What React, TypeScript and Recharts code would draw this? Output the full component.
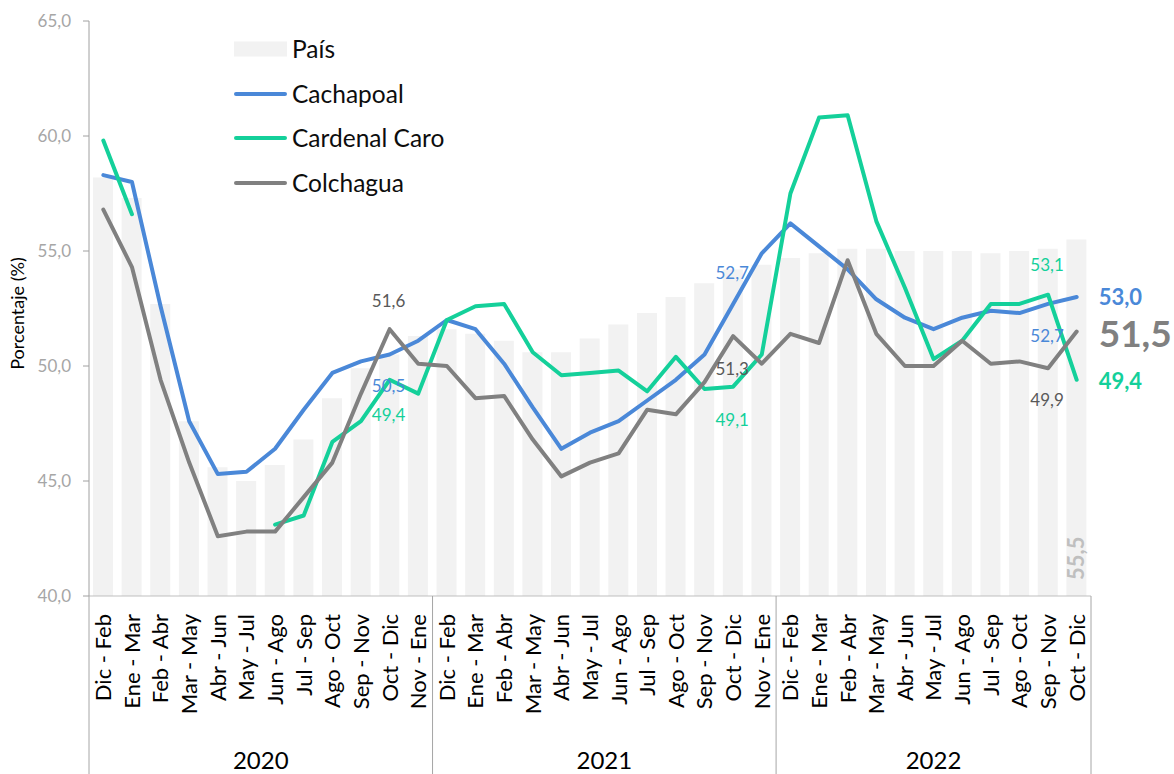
import React from 'react'
import { ComposedChart, Bar, Line, XAxis, YAxis, Legend, LabelList } from 'recharts'

// period labels, one row per year
const periods = ['Dic - Feb', 'Ene - Mar', 'Feb - Abr', 'Mar - May', 'Abr - Jun', 'May - Jul', 'Jun - Ago', 'Jul - Sep', 'Ago - Oct', 'Sep - Nov', 'Oct - Dic', 'Nov - Ene']
const years = ['2020', '2021', '2022']
const yearLengths = [12, 12, 11]
const categories = [...periods, ...periods, ...periods.slice(0, 11)]

const yTicks = [40, 45, 50, 55, 60, 65]
const legendOrder = ['País', 'Cachapoal', 'Cardenal Caro', 'Colchagua']

const pais = [58.2, 57.3, 52.7, 47.6, 45.6, 45.0, 45.7, 46.8, 48.6, 49.9, 50.5, 51.3,
  51.6, 51.4, 51.1, 50.6, 50.6, 51.2, 51.8, 52.3, 53.0, 53.6, 54.2, 54.4,
  54.7, 54.9, 55.1, 55.1, 55.0, 55.0, 55.0, 54.9, 55.0, 55.1, 55.5]
const cachapoal = [58.3, 58.0, 52.6, 47.6, 45.3, 45.4, 46.4, 48.1, 49.7, 50.2, 50.5, 51.1,
  52.0, 51.6, 50.1, 48.2, 46.4, 47.1, 47.6, 48.5, 49.4, 50.5, 52.7, 54.9,
  56.2, 55.2, 54.2, 52.9, 52.1, 51.6, 52.1, 52.4, 52.3, 52.7, 53.0]
const cardenalCaro = [59.8, 56.6, null, null, null, null, 43.1, 43.5, 46.7, 47.6, 49.4, 48.8,
  52.0, 52.6, 52.7, 50.6, 49.6, 49.7, 49.8, 48.9, 50.4, 49.0, 49.1, 50.5,
  57.5, 60.8, 60.9, 56.3, 53.4, 50.3, 51.1, 52.7, 52.7, 53.1, 49.4]
const colchagua = [56.8, 54.3, 49.4, 45.8, 42.6, 42.8, 42.8, 44.3, 45.8, 48.8, 51.6, 50.1,
  50.0, 48.6, 48.7, 46.8, 45.2, 45.8, 46.2, 48.1, 47.9, 49.3, 51.3, 50.1,
  51.4, 51.0, 54.6, 51.4, 50.0, 50.0, 51.1, 50.1, 50.2, 49.9, 51.5]

// indices that carry a value label
const labelIdx = [10, 22, 33]

const data = categories.map((label, i) => ({
  idx: i,
  label,
  pais: pais[i],
  cachapoal: cachapoal[i],
  caro: cardenalCaro[i],
  colchagua: colchagua[i],
}))

const FONT = 'Lato, "Open Sans", sans-serif'
const BLUE = '#4a88d8'
const GREEN = '#14d09a'
const GRAY = '#808080'

const W = 1174
const H = 774
const PLOT_LEFT = 89
const PLOT_RIGHT = 1091
const BAND = (PLOT_RIGHT - PLOT_LEFT) / categories.length

const fmt = (v: number) => v.toFixed(1).replace('.', ',')

// label offsets (dy from point) for idx 10 / 22 / 33, plus end label style
const labelStyle: Record<string, { dys: number[]; color: string; endSize: number; endDy: number; endColor: string }> = {
  cachapoal: { dys: [31, -31, 32], color: BLUE, endSize: 22, endDy: 0, endColor: BLUE },
  caro: { dys: [35, 33, -30], color: GREEN, endSize: 22, endDy: 1, endColor: GREEN },
  colchagua: { dys: [-28, 33, 32], color: '#595959', endSize: 37, endDy: 2, endColor: GRAY },
}

const makeLabel = (key: string) => (props: any) => {
  const { x, y, value, index } = props
  if (value == null) return null
  const st = labelStyle[key]
  if (index === categories.length - 1) {
    return (
      <text x={x + 22} y={y + st.endDy} dy="0.36em" fill={st.endColor} fontSize={st.endSize}
        fontWeight="bold" fontFamily={FONT} textAnchor="start">{fmt(value)}</text>
    )
  }
  const k = labelIdx.indexOf(index)
  if (k < 0) return null
  return (
    <text x={x - 1} y={y + st.dys[k]} dy="0.36em" fill={st.color} fontSize={17}
      fontFamily={FONT} textAnchor="middle">{fmt(value)}</text>
  )
}

const barLabel = (props: any) => {
  const { x, y, width, height, value, index } = props
  if (index !== categories.length - 1) return null
  const cx = x + width / 2
  const by = y + height - 16
  return (
    <text x={cx} y={by} dy="0.36em" transform={`rotate(-90 ${cx} ${by})`} fill="#bfbfbf"
      fontSize={22} fontWeight="bold" fontFamily={FONT} textAnchor="start">{fmt(value)}</text>
  )
}

const XTick = (props: any) => {
  const { x, y, payload } = props
  const i = Number(payload.value)
  const ly = y + 18
  const parts: React.ReactNode[] = []
  parts.push(
    <text key="t" x={x} y={ly} dy="0.36em" transform={`rotate(-90 ${x} ${ly})`} textAnchor="end"
      fontSize={22} fontFamily={FONT} fill="#000">{categories[i]}</text>
  )
  let start = 0
  yearLengths.forEach((n, g) => {
    if (i === start) {
      parts.push(<line key={'s' + g} x1={x - BAND / 2} x2={x - BAND / 2} y1={y} y2={H} stroke="#a6a6a6" strokeWidth={1} />)
      parts.push(
        <text key={'y' + g} x={x + ((n - 1) / 2) * BAND} y={H - 5} textAnchor="middle" fontSize={24}
          fontFamily={FONT} fill="#000">{years[g]}</text>
      )
    }
    start += n
  })
  if (i === categories.length - 1) {
    parts.push(<line key="e" x1={x + BAND / 2} x2={x + BAND / 2} y1={y} y2={H} stroke="#a6a6a6" strokeWidth={1} />)
  }
  return <g>{parts}</g>
}

const renderLegend = (props: any) => {
  const items = [...(props.payload || [])].sort(
    (a: any, b: any) => legendOrder.indexOf(a.value) - legendOrder.indexOf(b.value))
  return (
    <div style={{ fontFamily: FONT }}>
      {items.map((e: any) => (
        <div key={e.value} style={{ display: 'flex', alignItems: 'center', height: 44.5 }}>
          <svg width={58} height={20} style={{ display: 'block' }}>
            {e.type === 'rect'
              ? <rect x={0} y={2.5} width={53} height={15} fill="#f2f2f2" />
              : <line x1={2} x2={51} y1={10} y2={10} stroke={e.color} strokeWidth={4} strokeLinecap="round" />}
          </svg>
          <span style={{ fontSize: 24.5, color: '#0d0d0d', lineHeight: 1 }}>{e.value}</span>
        </div>
      ))}
    </div>
  )
}

export default function App() {
  return (
    <div style={{ position: 'absolute', left: 0, top: 0, width: W, height: H, background: '#fff' }}>
      <ComposedChart width={W} height={H} data={data} margin={{ top: 21, right: W - PLOT_RIGHT, left: 0, bottom: 0 }}>
        <XAxis dataKey="idx" type="category" interval={0} height={178} tickSize={0} tickMargin={0}
          tickLine={false} axisLine={{ stroke: '#bfbfbf' }} tick={<XTick />} />
        <YAxis width={PLOT_LEFT} domain={[40, 65]} ticks={yTicks} interval={0} allowDataOverflow
          tickFormatter={fmt} tickSize={6} tickMargin={12}
          tick={{ fill: '#a6a6a6', fontSize: 17, fontFamily: FONT }}
          tickLine={{ stroke: '#a0a0a0' }} axisLine={{ stroke: '#a0a0a0' }}
          label={(p: any) => {
            const vb = p.viewBox || { x: 0, y: 21, width: PLOT_LEFT, height: 575 }
            const cx = 18
            const cy = vb.y + vb.height / 2 + 5
            return (
              <text x={cx} y={cy} dy="0.36em" transform={`rotate(-90 ${cx} ${cy})`} textAnchor="middle"
                fontSize={18} fontFamily={FONT} fill="#000">Porcentaje (%)</text>
            )
          }} />
        <Legend layout="horizontal" verticalAlign="middle" align="center" content={renderLegend}
          wrapperStyle={{ position: 'absolute', left: 234, top: 27, width: 260 }} />
        <Bar dataKey="pais" name="País" fill="#f2f2f2" barSize={20} isAnimationActive={false} legendType="rect">
          <LabelList dataKey="pais" content={barLabel} />
        </Bar>
        <Line dataKey="cachapoal" name="Cachapoal" stroke={BLUE} strokeWidth={4} dot={false} activeDot={false}
          type="linear" strokeLinecap="round" strokeLinejoin="round" isAnimationActive={false}>
          <LabelList dataKey="cachapoal" content={makeLabel('cachapoal')} />
        </Line>
        <Line dataKey="caro" name="Cardenal Caro" stroke={GREEN} strokeWidth={4} dot={false} activeDot={false}
          type="linear" strokeLinecap="round" strokeLinejoin="round" isAnimationActive={false}>
          <LabelList dataKey="caro" content={makeLabel('caro')} />
        </Line>
        <Line dataKey="colchagua" name="Colchagua" stroke={GRAY} strokeWidth={4} dot={false} activeDot={false}
          type="linear" strokeLinecap="round" strokeLinejoin="round" isAnimationActive={false}>
          <LabelList dataKey="colchagua" content={makeLabel('colchagua')} />
        </Line>
      </ComposedChart>
    </div>
  )
}
